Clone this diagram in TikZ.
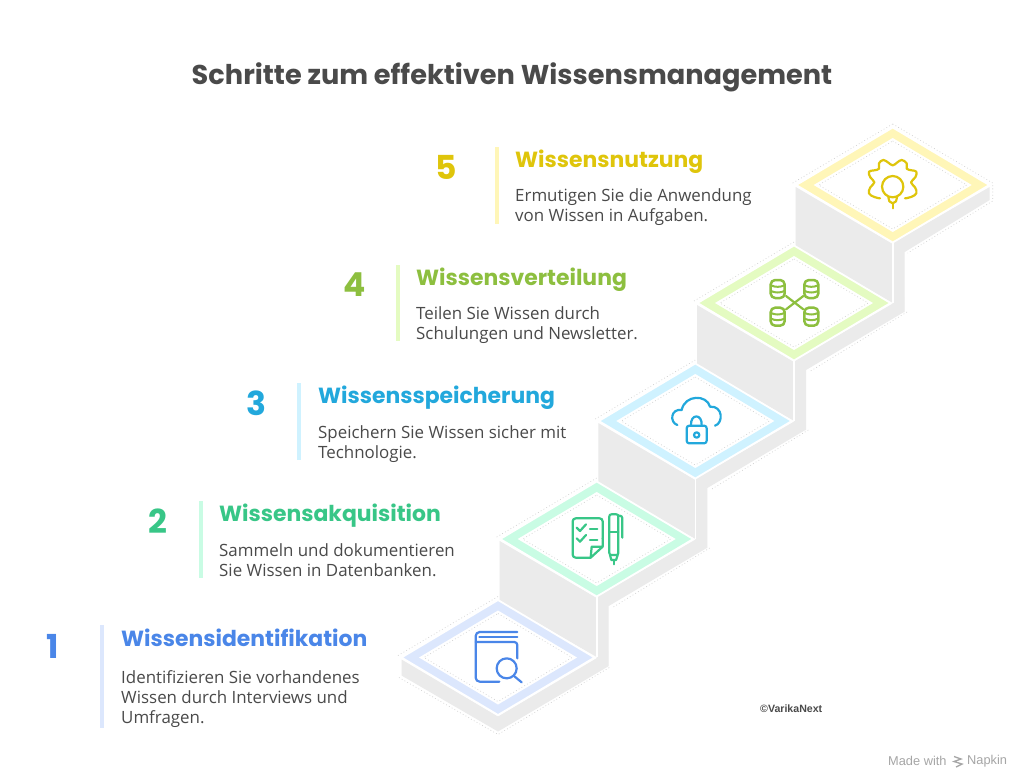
\documentclass[tikz,border=0pt]{standalone}
\usepackage{fontspec}
\setmainfont{Open Sans}
\newfontfamily\headfont[BoldFont={* Bold}]{Poppins}
\newfontfamily\smallfont{Liberation Sans}
\definecolor{ink}{HTML}{4A4A4A}
\definecolor{riser}{HTML}{EBEBEB}
\definecolor{dotgrey}{HTML}{CDCDCD}
\definecolor{markgrey}{HTML}{A6A6A6}
\definecolor{cOne}{HTML}{4A86E8}\definecolor{lOne}{HTML}{DCE7FD}
\definecolor{cTwo}{HTML}{38C687}\definecolor{lTwo}{HTML}{C9FCE4}
\definecolor{cThree}{HTML}{22A8DC}\definecolor{lThree}{HTML}{CFF2FF}
\definecolor{cFour}{HTML}{8DBF3F}\definecolor{lFour}{HTML}{E4FBC1}
\definecolor{cFive}{HTML}{DFC50B}\definecolor{lFive}{HTML}{FFF6B8}
\tikzset{
  titletext/.style={inner sep=0pt,text=ink,font=\headfont\bfseries\fontsize{27.2}{32}\selectfont},
  headtext/.style={inner sep=0pt,anchor=base west,font=\headfont\bfseries\fontsize{21.9}{26}\selectfont},
  bodytext/.style={inner sep=0pt,anchor=north west,align=left,text=ink,font=\fontsize{16.9}{20}\selectfont},
  numtext/.style={inner sep=0pt,font=\headfont\bfseries\fontsize{33}{36}\selectfont},
  iconline/.style={line width=2.2pt,line cap=round,line join=round},
  dots/.style={dotgrey,line width=0.6pt,dash pattern=on 0.8pt off 2.4pt},
  facefill/.style={fill=riser,draw=none},
}
% centre x, centre y, rim colour
\newcommand{\isotop}[3]{%
  \begin{scope}[shift={(#1,#2)}]
    \filldraw[draw=white,line width=1.8pt,fill=#3,line join=miter]
      (0,-57.5) -- (96.5,0) -- (0,57.5) -- (-96.5,0) -- cycle;
    \fill[white] (0,-47) -- (79,0) -- (0,47) -- (-79,0) -- cycle;
    \draw[dots] (0,-44) -- (74,0) -- (0,44) -- (-74,0) -- cycle;
    \draw[dots] (-100,-2) -- (0,-61);
  \end{scope}}
% riser of a step with a further step below it: centre x, centre y
\newcommand{\isoriser}[2]{%
  \begin{scope}[shift={(#1,#2)}]
    \fill[facefill] (-97,2) -- (0,59) -- (0,118) -- (-97,62) -- cycle;
    \fill[facefill] (0,58) -- (110,-6) -- (110,9) -- (12,67) -- (12,127) -- (0,127) -- cycle;
    \draw[white,line width=1.6pt] (0,58) -- (0,118);
    \draw[dots] (113,9) -- (15,69);
  \end{scope}}
\begin{document}
\begin{tikzpicture}[x=1pt,y=-1pt]
\useasboundingbox (0,0) rectangle (1024,782);
\fill[white] (0,0) rectangle (1024,782);

\node[titletext] (title) at (512,77) {Schritte zum effektiven Wissensmanagement};

% ---------- stairs, from top to bottom
\begin{scope}[shift={(892.7,185)}]
  \fill[facefill] (-97,2) -- (0,59) -- (0,118) -- (-97,62) -- cycle;
  \fill[facefill] (0,58) -- (97,2) -- (97,15) -- (12,67) -- (12,127) -- (0,127) -- cycle;
  \draw[white,line width=1.6pt] (0,58) -- (0,118);
  \draw[dots] (0,-61) -- (100,-2) -- (100,16) -- (15,68);
\end{scope}
\isotop{892.7}{185}{lFive}
\isoriser{794}{303}
\isotop{794}{303}{lFour}
\isoriser{695.3}{421}
\isotop{695.3}{421}{lThree}
\isoriser{596.7}{539}
\isotop{596.7}{539}{lTwo}
\begin{scope}[shift={(498,657.5)}]
  \fill[facefill] (-96.5,2) -- (0,59) -- (110,-6) -- (110,9) -- (0,74) -- (-96.5,18) -- cycle;
  \draw[dots] (-99,20) -- (0,77) -- (113,9);
\end{scope}
\isotop{498}{657.5}{lOne}

% ---------- icon 1: book and magnifier
\begin{scope}[shift={(460,620)},scale=1/3,cOne,iconline]
  \draw[rounded corners=4pt] (172,36) -- (47,36) -- (47,185) -- (118,185);
  \draw (58,52) -- (172,52);
  \draw[rounded corners=3pt] (47,66) -- (172,66) -- (172,115);
  \draw (140,145) circle[radius=30];
  \draw (162,168) -- (185,187);
\end{scope}
% ---------- icon 2: note and pen
\begin{scope}[shift={(560,505)},scale=1/3,cTwo,iconline]
  \draw[rounded corners=3pt] (92,158) -- (38,158) -- (38,40) -- (128,40) -- (128,100);
  \draw (128,100) -- (128,125) -- (92,158) -- (95,125) -- (128,125);
  \draw (50,68) -- (60,78) -- (78,58);
  \draw (90,72) -- (112,72);
  \draw (50,100) -- (60,110) -- (78,90);
  \draw (90,104) -- (112,104);
  \draw[rounded corners=2pt] (148,150) -- (148,28) -- (175,28) -- (175,150) -- cycle;
  \draw (148,80) -- (175,80);
  \draw[rounded corners=2.5pt] (175,32) -- (187,32) -- (187,98);
  \draw (150,150) -- (154,165) -- (168,165) -- (173,150);
  \draw (161,165) -- (161,178);
\end{scope}
% ---------- icon 3: cloud and lock
\begin{scope}[shift={(660,385)},scale=1/3,cThree,iconline]
  \draw (52,120) .. controls (28,112) and (32,70) .. (65,75)
        .. controls (75,28) and (140,28) .. (150,65)
        .. controls (190,62) and (190,115) .. (165,122);
  \draw[rounded corners=2.5pt] (80,122) rectangle (140,175);
  \draw (93,122) .. controls (90,85) and (128,85) .. (125,122);
  \draw (110,150) circle[radius=8];
\end{scope}
% ---------- icon 4: four databases joined by a cross
\begin{scope}[shift={(757,265)},scale=1/3,cFour,iconline]
  \foreach \dbx/\dby in {62/72,163/72,62/155,163/155}{
    \draw[rounded corners=4.5pt,line width=2.5pt] (\dbx-21,\dby-27) rectangle (\dbx+21,\dby+27);
    \draw[line width=2pt] (\dbx-20,\dby-11) .. controls (\dbx-8,\dby-5) and (\dbx+8,\dby-5) .. (\dbx+20,\dby-11);
    \draw[line width=2pt] (\dbx-20,\dby+6) .. controls (\dbx-8,\dby+12) and (\dbx+8,\dby+12) .. (\dbx+20,\dby+6);
  }
  \draw (87,93) -- (139,133);
  \draw (139,93) -- (87,133);
\end{scope}
% ---------- icon 5: gear and bulb
\begin{scope}[shift={(855,150)},scale=1/3,cFive,iconline]
  \draw plot[smooth,tension=0.7] coordinates {(75,145) (58,141) (42,130) (46,112) (58,97) (46,82) (42,65) (58,61) (72,56) (72,40) (85,30) (100,38) (113,46) (126,38) (140,30) (155,40) (155,56) (170,61) (184,65) (181,82) (168,97) (180,112) (184,130) (168,141) (150,145)};
  \draw (113,110) circle[radius=32];
  \draw (100,142) -- (103,154) -- (113,160) -- (123,154) -- (126,142);
  \draw (113,160) -- (113,175);
\end{scope}

% ---------- texts
\fill[lOne] (100,625) rectangle (104,728);
\node[numtext,text=cOne] (n1) at (53,646) {1};
\node[headtext,text=cOne] (h1) at (121,646) {Wissensidentifikation};
\node[bodytext] (b1) at (121,670) {Identifizieren Sie vorhandenes\\Wissen durch Interviews und\\Umfragen.};

\fill[lTwo] (199,501) rectangle (203,578);
\node[numtext,text=cTwo] (n2) at (158,521) {2};
\node[headtext,text=cTwo] (h2) at (219,521) {Wissensakquisition};
\node[bodytext] (b2) at (219,543) {Sammeln und dokumentieren\\Sie Wissen in Datenbanken.};

\fill[lThree] (297,383) rectangle (301,460);
\node[numtext,text=cThree] (n3) at (256,403) {3};
\node[headtext,text=cThree] (h3) at (318,403) {Wissensspeicherung};
\node[bodytext] (b3) at (318,425) {Speichern Sie Wissen sicher mit\\Technologie.};

\fill[lFour] (396,265) rectangle (400,341);
\node[numtext,text=cFour] (n4) at (355,285) {4};
\node[headtext,text=cFour] (h4) at (416,285) {Wissensverteilung};
\node[bodytext] (b4) at (416,306) {Teilen Sie Wissen durch\\Schulungen und Newsletter.};

\fill[lFive] (495,147) rectangle (499,224);
\node[numtext,text=cFive] (n5) at (446,167) {5};
\node[headtext,text=cFive] (h5) at (515,167) {Wissensnutzung};
\node[bodytext] (b5) at (515,188) {Ermutigen Sie die Anwendung\\von Wissen in Aufgaben.};

\node[inner sep=0pt,anchor=west,text=ink,font=\smallfont\bfseries\fontsize{10.6}{12}\selectfont] (copy) at (760,709) {©VarikaNext};
\node[inner sep=0pt,anchor=west,text=markgrey,font=\smallfont\fontsize{12.8}{14}\selectfont] (made) at (888,761) {Made with};
\node[inner sep=0pt,anchor=west,text=markgrey,font=\smallfont\fontsize{12.8}{14}\selectfont] (napkin) at (967,761) {Napkin};
\draw[markgrey,line width=1.3pt] (954,756.5) -- (961,759) -- (954,761.5) -- (962,764) -- (956,767);
\end{tikzpicture}
\end{document}
